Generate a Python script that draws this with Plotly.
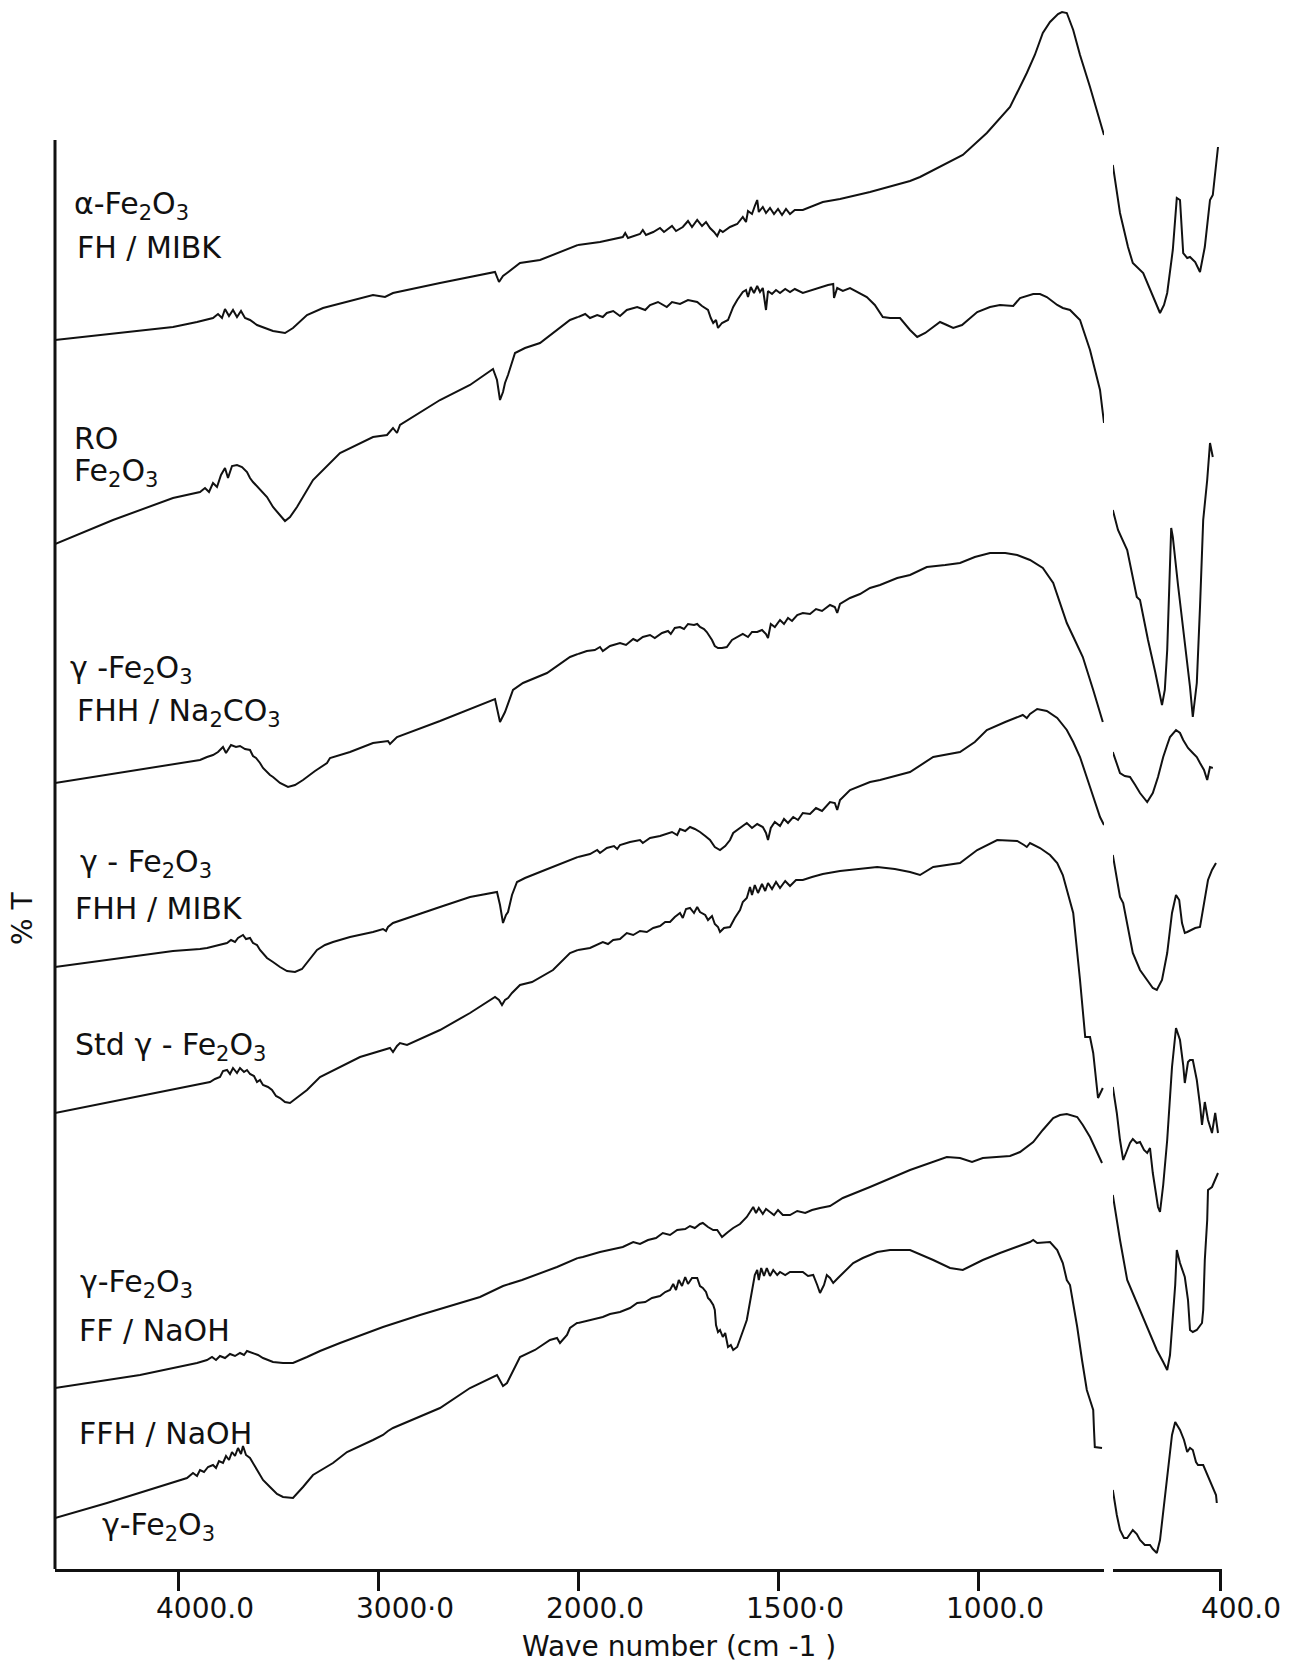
import plotly.graph_objects as go

# Stacked FT-IR spectra of iron oxide samples.
# Each spectrum: (wavenumber cm-1, offset %T in chart units) pairs.
# "_MID" runs 4615 -> ~685 cm-1, "_FAR" is the separate far-IR strip 668 -> ~405 cm-1.

ALPHA_FH_MIBK_MID = [
    (4615, 1229), (4025, 1242), (3905, 1247), (3825, 1251), (3800, 1255), (3780, 1251), (3765, 1260),
    (3745, 1253), (3725, 1259), (3705, 1252), (3685, 1258), (3665, 1251), (3640, 1249), (3605, 1244),
    (3525, 1238), (3465, 1236), (3425, 1241), (3355, 1254), (3275, 1261), (3025, 1274), (2965, 1272),
    (2925, 1276), (2690, 1286), (2540, 1292), (2415, 1297), (2395, 1287), (2375, 1293), (2355, 1296),
    (2290, 1306), (2190, 1309), (2040, 1321), (2000, 1324), (1945, 1327), (1888, 1332), (1882, 1336),
    (1875, 1331), (1845, 1335), (1838, 1339), (1830, 1334), (1812, 1337), (1795, 1341), (1785, 1337),
    (1765, 1343), (1755, 1338), (1738, 1342), (1725, 1348), (1715, 1342), (1702, 1349), (1690, 1343),
    (1680, 1347), (1670, 1341), (1660, 1337), (1652, 1333), (1645, 1339), (1638, 1337), (1620, 1342),
    (1602, 1345), (1588, 1352), (1580, 1347), (1575, 1358), (1565, 1355), (1558, 1363), (1552, 1369),
    (1548, 1357), (1538, 1362), (1530, 1356), (1520, 1361), (1510, 1355), (1500, 1360), (1490, 1354),
    (1480, 1360), (1470, 1355), (1458, 1359), (1438, 1359), (1415, 1363), (1388, 1367), (1345, 1370),
    (1270, 1377), (1170, 1388), (1145, 1392), (1038, 1414), (978, 1436), (920, 1462), (878, 1496),
    (858, 1514), (838, 1536), (820, 1547), (800, 1555), (790, 1557), (778, 1556), (762, 1539),
    (745, 1514), (720, 1482), (700, 1456), (685, 1434),
]
ALPHA_FH_MIBK_FAR = [
    (668, 1404), (650, 1356), (630, 1322), (618, 1306), (592, 1296), (575, 1279), (550, 1256),
    (540, 1264), (532, 1276), (518, 1319), (508, 1371), (500, 1369), (492, 1316), (482, 1311),
    (475, 1312), (462, 1307), (450, 1297), (438, 1322), (425, 1369), (418, 1374), (405, 1422),
]

RO_MID = [
    (4615, 1025), (4325, 1049), (4025, 1071), (3955, 1074), (3890, 1077), (3865, 1081), (3845, 1077),
    (3825, 1086), (3805, 1082), (3785, 1094), (3765, 1101), (3750, 1091), (3730, 1103), (3705, 1104),
    (3680, 1102), (3655, 1097), (3640, 1091), (3625, 1087), (3590, 1079), (3555, 1072), (3525, 1062),
    (3490, 1054), (3465, 1048), (3440, 1052), (3405, 1062), (3325, 1089), (3190, 1116), (3025, 1132),
    (2955, 1134), (2925, 1141), (2905, 1136), (2890, 1144), (2690, 1169), (2540, 1184), (2425, 1200),
    (2405, 1189), (2390, 1169), (2375, 1177), (2365, 1186), (2350, 1194), (2315, 1216), (2265, 1221),
    (2190, 1226), (2040, 1249), (2000, 1252), (1982, 1255), (1970, 1251), (1952, 1254), (1938, 1252),
    (1928, 1256), (1912, 1258), (1895, 1253), (1878, 1259), (1852, 1262), (1832, 1259), (1820, 1264),
    (1800, 1267), (1778, 1262), (1765, 1267), (1745, 1265), (1725, 1269), (1702, 1267), (1690, 1263),
    (1675, 1259), (1668, 1251), (1662, 1246), (1655, 1249), (1650, 1241), (1640, 1246), (1625, 1249),
    (1612, 1262), (1602, 1269), (1588, 1277), (1580, 1279), (1575, 1272), (1568, 1282), (1560, 1276),
    (1552, 1283), (1545, 1277), (1538, 1281), (1530, 1259), (1525, 1278), (1515, 1275), (1505, 1279),
    (1495, 1276), (1482, 1280), (1470, 1277), (1458, 1280), (1438, 1276), (1415, 1279), (1395, 1281),
    (1375, 1284), (1362, 1285), (1360, 1271), (1352, 1281), (1338, 1278), (1320, 1281), (1295, 1276),
    (1278, 1272), (1258, 1264), (1238, 1252), (1220, 1251), (1195, 1251), (1170, 1239), (1152, 1232),
    (1132, 1236), (1095, 1247), (1078, 1244), (1062, 1241), (1040, 1244), (1020, 1251), (1002, 1257),
    (970, 1262), (945, 1264), (912, 1263), (895, 1271), (862, 1275), (845, 1275), (828, 1272),
    (802, 1264), (788, 1261), (770, 1259), (745, 1249), (720, 1219), (695, 1179), (685, 1146),
]
RO_FAR = [
    (668, 1059), (655, 1039), (632, 1019), (608, 972), (600, 969), (580, 929), (562, 897), (545, 864),
    (538, 879), (532, 919), (522, 1041), (518, 1032), (505, 984), (492, 942), (475, 882), (468, 852),
    (458, 886), (450, 962), (442, 1049), (432, 1089), (425, 1126), (418, 1112),
]

GAMMA_FHH_NA2CO3_MID = [
    (4615, 786), (4055, 804), (3975, 806), (3890, 809), (3855, 812), (3825, 814), (3800, 817),
    (3775, 822), (3760, 816), (3735, 824), (3710, 822), (3690, 823), (3665, 820), (3640, 819),
    (3625, 813), (3610, 811), (3590, 806), (3575, 801), (3540, 794), (3525, 792), (3490, 786),
    (3450, 782), (3415, 784), (3375, 789), (3315, 798), (3255, 806), (3240, 811), (3140, 817),
    (3025, 826), (2950, 828), (2940, 825), (2905, 832), (2690, 848), (2540, 860), (2415, 870),
    (2390, 847), (2365, 857), (2325, 879), (2275, 886), (2155, 896), (2040, 912), (2000, 915),
    (1978, 918), (1958, 919), (1945, 922), (1938, 918), (1920, 923), (1895, 926), (1880, 924),
    (1862, 930), (1852, 928), (1838, 932), (1820, 934), (1808, 931), (1790, 936), (1775, 938),
    (1768, 935), (1758, 941), (1745, 942), (1735, 940), (1725, 945), (1710, 944), (1702, 945),
    (1695, 942), (1685, 940), (1678, 937), (1665, 929), (1658, 923), (1650, 921), (1640, 921),
    (1628, 922), (1615, 929), (1602, 932), (1588, 935), (1575, 932), (1565, 937), (1552, 937),
    (1540, 939), (1530, 935), (1525, 931), (1518, 945), (1508, 942), (1495, 949), (1485, 945),
    (1475, 951), (1465, 948), (1452, 954), (1438, 956), (1420, 955), (1405, 960), (1390, 958),
    (1370, 964), (1358, 962), (1352, 956), (1345, 965), (1320, 971), (1295, 975), (1270, 981),
    (1245, 984), (1202, 991), (1170, 994), (1128, 1002), (1082, 1004), (1045, 1006), (1008, 1012),
    (970, 1016), (932, 1016), (902, 1014), (870, 1009), (838, 1001), (812, 986), (795, 966),
    (778, 946), (758, 929), (738, 912), (712, 879), (688, 847),
]
GAMMA_FHH_NA2CO3_FAR = [
    (668, 817), (658, 804), (650, 796), (638, 793), (625, 792), (612, 784), (600, 776), (582, 767),
    (568, 776), (555, 792), (542, 812), (532, 824), (525, 832), (510, 839), (500, 836), (492, 829),
    (480, 821), (468, 816), (458, 812), (450, 806), (440, 799), (432, 789), (425, 802), (418, 801),
]

GAMMA_FHH_MIBK_MID = [
    (4615, 602), (4025, 618), (3890, 620), (3855, 621), (3815, 623), (3780, 625), (3755, 626),
    (3735, 629), (3715, 627), (3700, 631), (3685, 633), (3675, 634), (3660, 630), (3640, 631),
    (3625, 626), (3605, 624), (3590, 619), (3575, 616), (3555, 611), (3525, 607), (3490, 602),
    (3455, 598), (3415, 597), (3380, 600), (3355, 606), (3305, 619), (3265, 624), (3225, 627),
    (3140, 632), (3025, 637), (2975, 640), (2960, 638), (2950, 642), (2925, 646), (2690, 662),
    (2540, 672), (2405, 677), (2390, 664), (2375, 646), (2360, 654), (2350, 657), (2330, 674),
    (2305, 687), (2265, 691), (2165, 699), (2040, 709), (2000, 712), (1970, 715), (1952, 719),
    (1945, 716), (1928, 721), (1910, 723), (1902, 720), (1895, 724), (1870, 727), (1845, 729),
    (1838, 726), (1820, 731), (1795, 733), (1782, 735), (1765, 737), (1752, 734), (1745, 740),
    (1732, 738), (1720, 742), (1708, 740), (1695, 737), (1682, 733), (1670, 729), (1658, 722),
    (1645, 719), (1632, 723), (1620, 729), (1612, 736), (1595, 741), (1578, 746), (1565, 741),
    (1552, 745), (1538, 742), (1530, 736), (1525, 729), (1518, 741), (1508, 747), (1495, 743),
    (1485, 750), (1475, 746), (1462, 752), (1450, 749), (1438, 756), (1420, 755), (1405, 761),
    (1390, 758), (1370, 767), (1358, 766), (1352, 759), (1345, 769), (1320, 779), (1295, 783),
    (1270, 787), (1245, 789), (1208, 793), (1170, 797), (1112, 812), (1045, 817), (1008, 827),
    (978, 839), (932, 847), (888, 854), (878, 851), (870, 855), (852, 860), (828, 858), (802, 851),
    (778, 839), (762, 827), (745, 812), (720, 782), (695, 752), (685, 744),
]
GAMMA_FHH_MIBK_FAR = [
    (668, 714), (650, 672), (642, 666), (630, 639), (618, 616), (600, 599), (582, 589), (568, 581),
    (558, 579), (545, 589), (532, 616), (520, 656), (510, 674), (502, 669), (495, 646), (488, 636),
    (482, 637), (472, 639), (462, 641), (450, 642), (442, 661), (438, 669), (430, 689), (420, 699),
    (410, 706),
]

STD_GAMMA_MID = [
    (4615, 456), (3905, 484), (3840, 487), (3815, 490), (3790, 492), (3775, 498), (3755, 499),
    (3740, 495), (3725, 501), (3705, 496), (3690, 501), (3670, 497), (3655, 499), (3640, 495),
    (3620, 493), (3605, 487), (3590, 489), (3575, 484), (3550, 482), (3530, 479), (3510, 473),
    (3490, 471), (3465, 467), (3440, 466), (3405, 471), (3355, 479), (3290, 492), (3240, 497),
    (3090, 512), (2940, 521), (2925, 517), (2905, 523), (2890, 526), (2855, 524), (2690, 539),
    (2540, 556), (2415, 572), (2395, 569), (2380, 564), (2365, 569), (2350, 571), (2330, 576),
    (2290, 584), (2230, 587), (2125, 599), (2040, 616), (2000, 619), (1970, 621), (1938, 627),
    (1925, 625), (1912, 629), (1895, 630), (1878, 636), (1862, 634), (1845, 638), (1828, 637),
    (1812, 641), (1795, 643), (1782, 647), (1770, 647), (1758, 652), (1745, 656), (1738, 651),
    (1730, 660), (1720, 661), (1710, 656), (1702, 662), (1695, 657), (1682, 654), (1675, 649),
    (1665, 653), (1658, 645), (1650, 642), (1645, 637), (1635, 641), (1620, 642), (1608, 651),
    (1595, 659), (1588, 667), (1578, 671), (1570, 682), (1565, 674), (1558, 684), (1550, 676),
    (1540, 685), (1532, 678), (1525, 686), (1515, 680), (1505, 687), (1495, 681), (1482, 688),
    (1470, 683), (1455, 689), (1438, 689), (1415, 692), (1388, 695), (1345, 698), (1295, 700),
    (1252, 702), (1208, 700), (1170, 697), (1145, 694), (1112, 702), (1045, 706), (1002, 719),
    (952, 729), (902, 728), (885, 724), (878, 722), (870, 726), (845, 721), (820, 714), (802, 706),
    (788, 694), (770, 669), (762, 656), (745, 589), (732, 532), (720, 532), (712, 516), (700, 471),
    (688, 481),
]
STD_GAMMA_FAR = [
    (668, 482), (658, 456), (650, 429), (642, 409), (632, 419), (625, 426), (618, 430), (608, 426),
    (600, 427), (590, 419), (582, 416), (575, 421), (568, 396), (560, 374), (555, 362), (550, 357),
    (542, 384), (532, 429), (520, 502), (510, 541), (500, 529), (492, 504), (488, 486), (480, 507),
    (475, 509), (468, 509), (458, 489), (450, 464), (445, 444), (438, 467), (430, 449), (420, 436),
    (412, 456), (405, 436),
]

GAMMA_FF_NAOH_MID = [
    (4615, 181), (4190, 194), (3905, 206), (3855, 209), (3830, 212), (3810, 209), (3790, 213),
    (3765, 211), (3740, 215), (3715, 213), (3690, 216), (3670, 214), (3655, 218), (3630, 216),
    (3600, 214), (3575, 211), (3550, 209), (3525, 207), (3475, 206), (3425, 206), (3355, 212),
    (3290, 218), (3190, 226), (2975, 242), (2790, 254), (2490, 272), (2375, 283), (2280, 289),
    (2105, 302), (2000, 311), (1988, 312), (1945, 317), (1888, 322), (1862, 327), (1845, 325),
    (1825, 329), (1805, 331), (1788, 336), (1770, 334), (1752, 339), (1732, 340), (1720, 343),
    (1708, 341), (1695, 345), (1688, 346), (1675, 342), (1662, 339), (1652, 339), (1640, 332),
    (1625, 337), (1612, 341), (1595, 345), (1578, 352), (1570, 357), (1562, 362), (1555, 356),
    (1548, 361), (1538, 355), (1530, 360), (1520, 357), (1510, 354), (1500, 359), (1488, 354),
    (1470, 354), (1452, 358), (1432, 356), (1415, 359), (1395, 361), (1370, 363), (1338, 371),
    (1270, 382), (1170, 399), (1078, 412), (1045, 411), (1015, 407), (988, 411), (920, 413),
    (895, 417), (862, 427), (838, 439), (812, 451), (795, 454), (778, 455), (752, 452), (738, 444),
    (720, 432), (705, 419), (690, 406),
]
GAMMA_FF_NAOH_FAR = [
    (668, 374), (650, 329), (632, 289), (618, 276), (600, 259), (582, 242), (558, 219), (542, 207),
    (532, 199), (525, 214), (520, 242), (512, 284), (508, 319), (500, 306), (488, 292), (480, 269),
    (475, 239), (468, 237), (458, 239), (445, 246), (442, 259), (438, 309), (432, 349), (430, 379),
    (420, 382), (405, 396),
]

GAMMA_FFH_NAOH_MID = [
    (4615, 51), (4355, 66), (3955, 91), (3925, 96), (3905, 93), (3890, 99), (3870, 97), (3850, 102),
    (3825, 104), (3810, 101), (3795, 108), (3775, 106), (3760, 113), (3745, 109), (3730, 117),
    (3715, 113), (3700, 121), (3685, 115), (3675, 123), (3660, 114), (3640, 111), (3605, 99),
    (3575, 89), (3540, 82), (3505, 75), (3475, 72), (3425, 71), (3375, 82), (3325, 94), (3225, 106),
    (3155, 117), (3025, 129), (2975, 134), (2950, 138), (2925, 141), (2690, 161), (2540, 181),
    (2405, 194), (2385, 187), (2375, 183), (2355, 186), (2340, 192), (2315, 201), (2290, 212),
    (2215, 219), (2140, 229), (2105, 231), (2090, 226), (2055, 234), (2040, 241), (2005, 246),
    (2000, 246), (1970, 249), (1938, 252), (1920, 255), (1895, 257), (1870, 261), (1852, 266),
    (1832, 267), (1815, 271), (1795, 273), (1782, 277), (1770, 279), (1762, 285), (1755, 279),
    (1748, 289), (1740, 283), (1732, 292), (1725, 285), (1715, 291), (1702, 291), (1695, 283),
    (1688, 281), (1680, 277), (1675, 271), (1670, 269), (1662, 264), (1658, 259), (1655, 244),
    (1650, 237), (1645, 239), (1638, 232), (1632, 236), (1625, 222), (1618, 224), (1612, 219),
    (1602, 222), (1595, 229), (1585, 241), (1578, 249), (1570, 266), (1562, 286), (1558, 294),
    (1552, 299), (1548, 289), (1542, 301), (1535, 293), (1528, 301), (1520, 293), (1512, 299),
    (1502, 294), (1495, 297), (1482, 294), (1470, 297), (1452, 297), (1438, 297), (1425, 293),
    (1412, 294), (1402, 284), (1395, 276), (1385, 284), (1378, 294), (1370, 291), (1362, 286),
    (1350, 291), (1338, 296), (1312, 306), (1288, 311), (1252, 317), (1220, 319), (1170, 319),
    (1112, 309), (1070, 301), (1038, 299), (988, 309), (945, 316), (870, 327), (862, 329),
    (852, 326), (820, 327), (802, 319), (788, 306), (778, 289), (770, 284), (752, 242), (740, 209),
    (728, 179), (720, 169), (712, 159), (710, 139), (708, 122), (690, 121),
]
GAMMA_FFH_NAOH_FAR = [
    (668, 79), (658, 54), (650, 39), (640, 31), (632, 31), (618, 39), (608, 35), (600, 29), (588, 24),
    (575, 24), (568, 20), (558, 16), (550, 29), (532, 92), (520, 134), (512, 147), (500, 139),
    (490, 129), (482, 117), (475, 121), (468, 119), (460, 107), (455, 104), (442, 104), (432, 94),
    (425, 87), (418, 82), (410, 74), (408, 66),
]

SPECTRA = [
    (ALPHA_FH_MIBK_MID, ALPHA_FH_MIBK_FAR),
    (RO_MID, RO_FAR),
    (GAMMA_FHH_NA2CO3_MID, GAMMA_FHH_NA2CO3_FAR),
    (GAMMA_FHH_MIBK_MID, GAMMA_FHH_MIBK_FAR),
    (STD_GAMMA_MID, STD_GAMMA_FAR),
    (GAMMA_FF_NAOH_MID, GAMMA_FF_NAOH_FAR),
    (GAMMA_FFH_NAOH_MID, GAMMA_FFH_NAOH_FAR),
]

# Sample labels: (text, wavenumber of left edge, chart-unit height)
SAMPLE_LABELS = [
    ("α-Fe<sub>2</sub>O<sub>3</sub>", 4530, 1364),
    ("FH / MIBK", 4515, 1322),
    ("RO", 4530, 1131),
    ("Fe<sub>2</sub>O<sub>3</sub>", 4530, 1097),
    ("γ -Fe<sub>2</sub>O<sub>3</sub>", 4550, 900),
    ("FHH / Na<sub>2</sub>CO<sub>3</sub>", 4515, 857),
    ("γ - Fe<sub>2</sub>O<sub>3</sub>", 4500, 706),
    ("FHH / MIBK", 4525, 661),
    ("Std γ - Fe<sub>2</sub>O<sub>3</sub>", 4525, 523),
    ("γ-Fe<sub>2</sub>O<sub>3</sub>", 4500, 286),
    ("FF / NaOH", 4505, 239),
    ("FFH / NaOH", 4505, 136),
    ("γ-Fe<sub>2</sub>O<sub>3</sub>", 4390, 43),
]

# Wavenumber ticks (the chart switches to double scale below 2000 cm-1)
HIGH_TICKS = [4000, 3000]
HIGH_TICK_TEXT = ["4000.0", "3000·0"]
MID_TICKS = [2000, 1500, 1000]
MID_TICK_TEXT = ["2000.0", "1500·0", "1000.0"]
FAR_TICKS = [400]
FAR_TICK_TEXT = ["400.0"]

FONT = "DejaVu Sans"
INK = "#111111"

fig = go.Figure()
for mid, far in SPECTRA:
    high = [p for p in mid if p[0] >= 2000]
    low = [p for p in mid if p[0] <= 2000]
    for pts, xa in ((high, "x"), (low, "x2"), (far, "x3")):
        fig.add_trace(go.Scatter(
            x=[p[0] for p in pts], y=[p[1] for p in pts],
            xaxis=xa, yaxis="y", mode="lines",
            line=dict(color=INK, width=2), showlegend=False, hoverinfo="skip",
        ))

axis_common = dict(
    showline=True, linewidth=3, linecolor=INK, showgrid=False, zeroline=False,
    ticks="outside", ticklen=19, tickwidth=2.5, tickcolor=INK, automargin=False,
    ticklabelstandoff=-7,
    tickfont=dict(family=FONT, size=28, color=INK), anchor="y",
)

fig.update_layout(
    width=1304, height=1669,
    margin=dict(l=55, r=82, t=3, b=100, pad=0, autoexpand=False),
    paper_bgcolor="white", plot_bgcolor="white",
    xaxis=dict(domain=[0, 0.44816], range=[4615, 2000], tickmode="array",
               tickvals=HIGH_TICKS, ticktext=HIGH_TICK_TEXT, ticklabelshift=-27, **axis_common),
    xaxis2=dict(domain=[0.44816, 0.8989], range=[2000, 685], tickmode="array",
                tickvals=MID_TICKS, ticktext=MID_TICK_TEXT, ticklabelshift=-17, **axis_common),
    xaxis3=dict(domain=[0.9066, 1.0], range=[667.5, 395], tickmode="array",
                tickvals=FAR_TICKS, ticktext=FAR_TICK_TEXT, ticklabelshift=-21, **axis_common),
    yaxis=dict(range=[0, 1566], showline=False, showticklabels=False, showgrid=False,
               zeroline=False, ticks="", automargin=False),
    shapes=[dict(type="line", xref="paper", yref="y", x0=0, x1=0, y0=0, y1=1429,
                 line=dict(color=INK, width=3), layer="above")],
)

for text, wn, level in SAMPLE_LABELS:
    fig.add_annotation(text=text, x=wn, y=level, xref="x", yref="y",
                       xanchor="left", yanchor="middle", showarrow=False,
                       font=dict(family=FONT, size=30, color=INK))

fig.add_annotation(text="Wave number (cm -1 )", xref="paper", yref="paper",
                   x=0.5347, y=-0.0498, xanchor="center", yanchor="middle", showarrow=False,
                   font=dict(family=FONT, size=28, color=INK))
fig.add_annotation(text="% T", xref="paper", yref="paper", x=-0.0283, y=0.4157,
                   xanchor="center", yanchor="middle", textangle=-90, showarrow=False,
                   font=dict(family=FONT, size=28, color=INK))

fig.write_html("out.html")
